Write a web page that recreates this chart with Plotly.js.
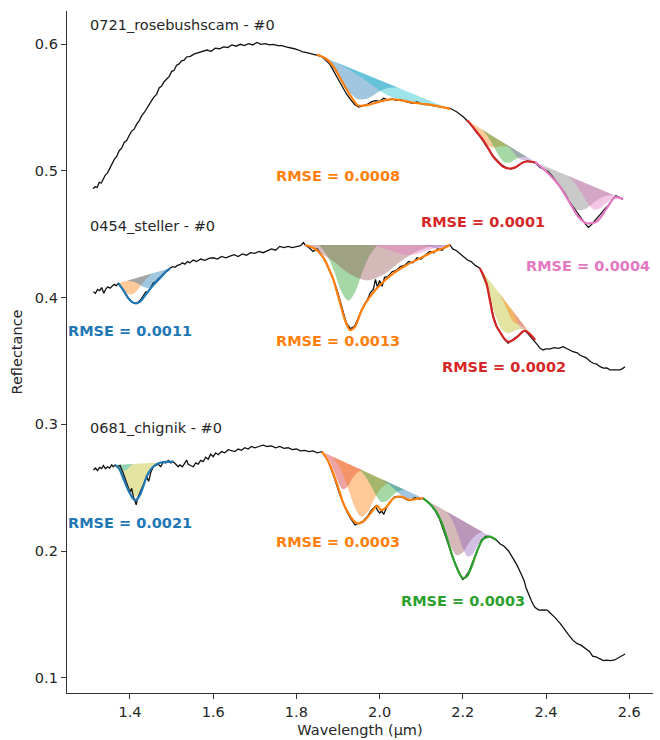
<!DOCTYPE html>
<html>
<head>
<meta charset="utf-8">
<script src="https://cdn.plot.ly/plotly-3.0.1.min.js"></script>
<style>html,body{margin:0;padding:0;background:#fff;}#chart{width:660px;height:740px;}</style>
</head>
<body>
<div id="chart"></div>
<script>
// ---------------- Spectra (black lines) ----------------
const s1_wl = [1.311,1.316,1.321,1.326,1.331,1.336,1.341,1.346,1.351,1.356,1.362,1.368,1.374,1.380,1.386,1.392,1.398,1.404,1.410,1.416,1.422,1.428,1.434,1.440,1.446,1.452,1.458,1.464,1.470,1.476,1.482,1.488,1.494,1.500,1.506,1.512,1.518,1.524,1.530,1.536,1.545,1.555,1.565,1.575,1.585,1.595,1.605,1.615,1.625,1.635,1.645,1.655,1.665,1.675,1.685,1.695,1.705,1.715,1.725,1.735,1.745,1.755,1.765,1.775,1.785,1.795,1.805,1.815,1.825,1.835,1.849,
1.86,1.87,1.88,1.89,1.90,1.91,1.92,1.93,1.94,1.95,1.96,1.97,1.98,1.99,2.00,2.01,2.02,2.03,2.04,2.05,2.06,2.07,2.08,2.09,2.10,2.11,2.12,2.13,2.14,2.15,2.16,2.169,
2.185,2.201,2.213,2.225,2.235,2.245,2.255,2.265,2.275,2.285,2.295,2.305,2.315,2.325,2.335,2.345,2.355,2.365,2.374,2.385,2.395,2.405,2.415,2.425,2.435,2.445,2.455,2.465,2.475,2.485,2.495,2.502,2.51,2.52,2.53,2.54,2.55,2.56,2.568,2.577,2.585];
const s1_r = [0.486,0.4875,0.487,0.491,0.4905,0.494,0.497,0.4985,0.5025,0.505,0.509,0.5115,0.516,0.518,0.5225,0.524,0.528,0.5315,0.533,0.537,0.5395,0.5435,0.546,0.5495,0.552,0.5555,0.5585,0.5605,0.5655,0.567,0.5705,0.5725,0.5745,0.5785,0.5795,0.5835,0.5845,0.587,0.5875,0.590,0.5905,0.5925,0.5935,0.5945,0.5955,0.5945,0.597,0.5965,0.598,0.5975,0.5995,0.5985,0.600,0.599,0.6005,0.5995,0.6015,0.600,0.6005,0.5995,0.600,0.599,0.599,0.598,0.5975,0.5965,0.5955,0.594,0.5935,0.5925,0.5915,
0.5905,0.588,0.5845,0.5785,0.5725,0.5665,0.561,0.5565,0.5525,0.5505,0.5515,0.5525,0.5545,0.5555,0.555,0.5575,0.556,0.557,0.5555,0.5565,0.555,0.5545,0.5535,0.5545,0.553,0.5525,0.5525,0.5515,0.551,0.5505,0.5495,0.5495,
0.5468,0.5428,0.5389,0.534,0.5295,0.5255,0.5205,0.5155,0.511,0.5075,0.5045,0.5025,0.5015,0.5025,0.505,0.507,0.508,0.5075,0.5065,0.503,0.501,0.4995,0.496,0.4915,0.487,0.4825,0.4765,0.4715,0.4665,0.4625,0.458,0.4555,0.458,0.4615,0.4655,0.4695,0.473,0.4775,0.4805,0.479,0.4775];

const s2_wl = [1.312,1.317,1.322,1.327,1.332,1.337,1.342,1.347,1.352,1.357,1.362,1.367,1.372,
1.378,1.384,1.39,1.396,1.402,1.408,1.414,1.42,1.426,1.432,1.438,1.444,1.45,1.456,1.462,1.468,1.474,1.48,1.486,1.492,1.496,
1.502,1.508,1.514,1.52,1.526,1.532,1.538,1.544,1.552,1.56,1.57,1.58,1.59,1.60,1.61,1.62,1.63,1.64,1.65,1.66,1.67,1.68,1.69,1.70,1.71,1.72,1.73,1.74,1.75,1.76,1.77,1.78,1.79,1.80,1.81,1.817,1.821,
1.83,1.84,1.85,1.86,1.87,1.88,1.89,1.90,1.91,1.92,1.93,1.94,1.95,1.96,1.97,1.978,1.985,1.99,1.995,2.0,2.006,2.012,2.02,2.03,2.04,2.05,2.06,2.07,2.08,2.09,2.10,2.11,2.12,2.13,2.14,2.15,2.16,2.169,
2.176,2.185,2.195,2.205,2.212,2.22,2.23,2.241,
2.25,2.258,2.265,2.273,2.281,2.29,2.30,2.309,2.317,2.325,2.333,2.341,2.349,2.357,2.365,2.374,
2.38,2.386,2.393,2.40,2.41,2.42,2.43,2.441,2.45,2.458,2.465,2.475,2.482,2.489,2.497,2.505,2.514,2.522,2.53,2.538,2.546,2.554,2.562,2.57,2.578,2.584,2.59];
const s2_r = [0.4047,0.4035,0.4065,0.4055,0.408,0.4035,0.407,0.4085,0.4075,0.409,0.4105,0.4095,0.4113,
0.409,0.4055,0.4025,0.3995,0.3975,0.396,0.3955,0.3965,0.3985,0.4015,0.4045,0.4045,0.408,0.4115,0.4125,0.415,0.4165,0.4185,0.4205,0.4215,0.4232,
0.4245,0.424,0.4255,0.426,0.4275,0.4265,0.4285,0.4275,0.4297,0.4285,0.4305,0.4295,0.431,0.4315,0.4305,0.4325,0.4315,0.433,0.434,0.4325,0.4345,0.4335,0.4355,0.435,0.4365,0.4355,0.437,0.4385,0.4375,0.4405,0.4395,0.4405,0.4395,0.4405,0.441,0.4435,0.4416,
0.4395,0.4365,0.4385,0.4335,0.429,0.421,0.4135,0.4035,0.3915,0.380,0.3755,0.3775,0.385,0.3925,0.398,0.404,0.4065,0.4145,0.408,0.4135,0.409,0.416,0.4165,0.4205,0.4215,0.4245,0.4255,0.4285,0.4275,0.4315,0.4305,0.4335,0.4365,0.4355,0.4385,0.4375,0.4405,0.4416,
0.4385,0.437,0.4345,0.4315,0.4295,0.4285,0.4255,0.4232,
0.4165,0.410,0.399,0.386,0.3775,0.3725,0.367,0.364,0.366,0.3685,0.3705,0.3725,0.374,0.3715,0.3685,0.3655,
0.3625,0.360,0.3587,0.3595,0.3595,0.3605,0.360,0.3613,0.3595,0.3585,0.3573,0.3565,0.3545,0.3534,0.3525,0.350,0.3482,0.3475,0.3455,0.3443,0.3445,0.343,0.343,0.3435,0.343,0.344,0.3455];

const s3_wl = [1.312,1.317,1.322,1.327,1.332,1.336,1.341,1.346,1.351,1.356,1.36,1.364,
1.37,1.376,1.382,1.388,1.394,1.40,1.404,1.408,1.412,1.415,1.418,1.422,1.428,1.434,1.44,1.445,1.45,1.456,1.462,1.468,1.474,1.48,1.486,1.492,1.498,1.504,
1.51,1.516,1.52,1.526,1.532,1.536,1.54,1.546,1.552,1.558,1.564,1.57,1.576,1.582,1.588,1.594,1.60,1.606,1.612,1.62,1.628,1.636,1.644,1.652,1.66,1.668,1.676,1.684,1.692,1.70,1.71,1.72,1.73,1.74,1.75,1.76,1.77,1.78,1.79,1.80,1.81,1.82,1.83,1.84,1.85,1.861,
1.875,1.89,1.905,1.92,1.93,1.941,1.95,1.96,1.97,1.98,1.99,1.995,2.0,2.005,2.01,2.017,2.025,2.035,2.045,2.055,2.065,2.075,2.085,2.095,2.105,
2.115,2.125,2.135,2.145,2.155,2.165,2.175,2.185,2.195,2.2,2.205,2.215,2.225,2.235,2.245,2.255,2.265,2.275,2.281,
2.29,2.30,2.31,2.32,2.33,2.34,2.347,2.352,2.357,2.365,2.373,2.383,2.393,2.403,2.41,2.42,2.434,2.444,2.454,2.464,2.474,2.485,2.495,2.505,2.512,2.52,2.53,2.538,2.545,2.555,2.565,2.575,2.583,2.59];
const s3_r = [0.264,0.2655,0.2635,0.266,0.265,0.2675,0.265,0.2665,0.2655,0.268,0.2665,0.2679,
0.2665,0.2675,0.263,0.258,0.2525,0.2465,0.2495,0.243,0.2395,0.2365,0.2415,0.2445,0.249,0.2535,0.2585,0.255,0.262,0.2665,0.2675,0.2685,0.2665,0.2705,0.2695,0.2715,0.2695,0.2705,
0.2685,0.2665,0.268,0.2665,0.2695,0.2718,0.2685,0.2675,0.2665,0.2695,0.2685,0.2715,0.2705,0.274,0.2725,0.2765,0.2745,0.2775,0.276,0.2785,0.2775,0.280,0.279,0.2785,0.2805,0.2795,0.2815,0.2805,0.2825,0.2815,0.2825,0.2835,0.2825,0.283,0.2815,0.2825,0.281,0.2815,0.280,0.2805,0.279,0.2795,0.2785,0.279,0.2775,0.2784,
0.272,0.259,0.244,0.232,0.226,0.2205,0.222,0.2235,0.227,0.232,0.2355,0.232,0.230,0.2315,0.229,0.2345,0.239,0.2425,0.243,0.2425,0.2405,0.240,0.242,0.241,0.2416,
0.239,0.2355,0.231,0.2245,0.2155,0.2055,0.1955,0.187,0.180,0.1775,0.179,0.184,0.192,0.201,0.2085,0.2115,0.2115,0.2095,0.2085,
0.2055,0.2035,0.200,0.195,0.189,0.182,0.177,0.171,0.1666,0.1605,0.1555,0.1534,0.1535,0.1534,0.151,0.148,0.1429,0.138,0.134,0.1298,0.127,0.1255,0.1232,0.1205,0.117,0.1165,0.1148,0.1135,0.1138,0.1135,0.114,0.1158,0.117,0.1187];

// ---------------- Fitted curves ----------------
const s1_fitA_wl = [1.849,1.87,1.89,1.91,1.93,1.948,1.97,2.0,2.025,2.05,2.08,2.11,2.14,2.169];
const s1_fitA_r  = [0.592,0.589,0.582,0.5705,0.5595,0.5518,0.552,0.5547,0.5566,0.556,0.554,0.5528,0.5512,0.549];
const s1_fitB_wl = [2.21,2.2173,2.233,2.249,2.261,2.273,2.285,2.297,2.317,2.33,2.341,2.353,2.365,2.374];
const s1_fitB_r  = [0.540,0.5376,0.531,0.5244,0.518,0.5113,0.507,0.5034,0.502,0.5035,0.506,0.5075,0.5073,0.507];
const s1_fitC_wl = [2.374,2.4016,2.4337,2.4577,2.4777,2.4978,2.522,2.546,2.566,2.585];
const s1_fitC_r  = [0.507,0.4994,0.4876,0.4745,0.4639,0.4587,0.460,0.4705,0.4792,0.478];

const s2_fitA_wl = [1.372,1.384,1.395,1.405,1.415,1.425,1.44,1.456,1.472,1.485,1.496];
const s2_fitA_r  = [0.4113,0.406,0.400,0.3965,0.3955,0.397,0.4034,0.410,0.4153,0.420,0.4232];
const s2_fitB_wl = [1.821,1.835,1.849,1.868,1.879,1.889,1.897,1.905,1.917,1.929,1.941,1.957,1.977,2.001,2.033,2.065,2.097,2.129,2.153,2.169];
const s2_fitB_r  = [0.4416,0.440,0.4376,0.4298,0.422,0.414,0.405,0.3958,0.382,0.3744,0.377,0.3903,0.4008,0.410,0.4192,0.4258,0.431,0.4363,0.439,0.4416];
const s2_fitC_wl = [2.241,2.249,2.257,2.265,2.273,2.281,2.289,2.299,2.309,2.321,2.333,2.345,2.353,2.362,2.374];
const s2_fitC_r  = [0.4232,0.418,0.4113,0.3982,0.385,0.3775,0.3731,0.368,0.3652,0.3666,0.3695,0.3735,0.3735,0.371,0.3666];

const s3_fitA_wl = [1.364,1.374,1.382,1.392,1.398,1.404,1.412,1.418,1.424,1.432,1.44,1.448,1.456,1.464,1.472,1.488,1.504];
const s3_fitA_r  = [0.2679,0.265,0.259,0.2508,0.2465,0.243,0.2402,0.2412,0.2442,0.251,0.2587,0.2635,0.2665,0.2685,0.2697,0.2703,0.2705];
const s3_fitB_wl = [1.861,1.871,1.881,1.889,1.897,1.905,1.913,1.923,1.933,1.941,1.949,1.957,1.965,1.973,1.981,1.988,1.994,2.0,2.005,2.011,2.017,2.025,2.033,2.043,2.053,2.063,2.073,2.083,2.093,2.105];
const s3_fitB_r  = [0.2784,0.274,0.2677,0.261,0.2534,0.2455,0.2376,0.231,0.2258,0.2228,0.2218,0.2225,0.2245,0.2275,0.231,0.234,0.2358,0.2335,0.2323,0.2332,0.235,0.2385,0.2416,0.2428,0.2429,0.2415,0.2403,0.2408,0.2416,0.2416];
const s3_fitC_wl = [2.105,2.12,2.135,2.149,2.161,2.175,2.19,2.2,2.21,2.222,2.235,2.249,2.265,2.281];
const s3_fitC_r  = [0.2416,0.2375,0.2315,0.2225,0.211,0.196,0.1835,0.1785,0.180,0.1885,0.2005,0.2095,0.2113,0.2087];

// ---------------- Band windows: continuum end points ----------------
const s1A_cont_wl = [1.849, 2.169], s1A_cont_r = [0.592, 0.549];
const s1B_cont_wl = [2.21, 2.374],  s1B_cont_r = [0.540, 0.507];
const s1C_cont_wl = [2.374, 2.585], s1C_cont_r = [0.507, 0.478];
const s2A_cont_wl = [1.372, 1.496], s2A_cont_r = [0.4113, 0.4232];
const s2B_cont_wl = [1.821, 2.169], s2B_cont_r = [0.4416, 0.4416];
const s2C_cont_wl = [2.241, 2.374], s2C_cont_r = [0.4232, 0.3666];
const s3A_cont_wl = [1.364, 1.504], s3A_cont_r = [0.2679, 0.2705];
const s3B_cont_wl = [1.861, 2.105], s3B_cont_r = [0.2784, 0.2416];
const s3C_cont_wl = [2.105, 2.281], s3C_cont_r = [0.2416, 0.2087];

// ---------------- Band components: wavelength + depth below continuum ----------------
const s1A_g1_wl = [1.853,1.880,1.902,1.925,1.948,1.971,1.994,2.016,2.043];
const s1A_g1_d  = [0,0.0044,0.0107,0.0184,0.022,0.0184,0.0107,0.0044,0];
const s1A_g2_wl = [1.8925,1.931,1.964,1.997,2.03,2.063,2.096,2.129,2.1675];
const s1A_g2_d  = [0,0.0019,0.0046,0.0079,0.0095,0.0079,0.0046,0.0019,0];
const s1B_g1_wl = [2.21,2.2224,2.2356,2.2488,2.262,2.2752,2.2884,2.3016,2.317];
const s1B_g1_d  = [0,0.002,0.0049,0.0084,0.010,0.0084,0.0049,0.002,0];
const s1B_g2_wl = [2.245,2.2604,2.2736,2.2868,2.30,2.3132,2.3264,2.3396,2.355];
const s1B_g2_d  = [0,0.003,0.0073,0.0125,0.015,0.0125,0.0073,0.003,0];
const s1B_g3_wl = [2.302,2.3118,2.3202,2.3286,2.337,2.3454,2.3538,2.3622,2.372];
const s1B_g3_d  = [0,0.001,0.0024,0.0042,0.005,0.0042,0.0024,0.001,0];
const s1C_g1_wl = [2.3875,2.412,2.433,2.454,2.475,2.496,2.517,2.538,2.5625];
const s1C_g1_d  = [0,0.0048,0.0117,0.020,0.024,0.020,0.0117,0.0048,0];
const s1C_g2_wl = [2.4525,2.47,2.485,2.5,2.515,2.53,2.545,2.56,2.5775];
const s1C_g2_d  = [0,0.0036,0.0088,0.015,0.018,0.015,0.0088,0.0036,0];

const s2A_g1_wl = [1.372,1.381,1.393,1.405,1.417,1.429,1.441,1.455];
const s2A_g1_d  = [0,0.0058,0.010,0.012,0.010,0.0058,0.0024,0];
const s2A_g2_wl = [1.393,1.4084,1.4216,1.4348,1.448,1.4612,1.4744,1.4876,1.496];
const s2A_g2_d  = [0,0.0022,0.0054,0.0092,0.011,0.0092,0.0054,0.0022,0];
const s2B_g1_wl = [1.855,1.8746,1.8914,1.9082,1.925,1.9418,1.9586,1.9754,1.995];
const s2B_g1_d  = [0,0.0087,0.0214,0.0367,0.044,0.0367,0.0214,0.0087,0];
const s2B_g2_wl = [1.821,1.853,1.892,1.931,1.97,2.009,2.048,2.087,2.1325];
const s2B_g2_d  = [0,0.0055,0.0136,0.0234,0.028,0.0234,0.0136,0.0055,0];
const s2B_g3_wl = [1.97,1.998,2.022,2.046,2.07,2.094,2.118,2.142,2.169];
const s2B_g3_d  = [0,0.0016,0.0039,0.0067,0.008,0.0067,0.0039,0.0016,0];
const s2B_g4_wl = [2.1025,2.113,2.122,2.131,2.14,2.149,2.158,2.169];
const s2B_g4_d  = [0,0.0006,0.0015,0.0025,0.003,0.0025,0.0015,0];
const s2C_g1_wl = [2.241,2.2482,2.2638,2.2794,2.295,2.3106,2.3262,2.3418,2.36];
const s2C_g1_d  = [0,0.0052,0.0127,0.0217,0.026,0.0217,0.0127,0.0052,0];
const s2C_g2_wl = [2.285,2.2948,2.3032,2.3116,2.32,2.3284,2.3368,2.3452,2.355];
const s2C_g2_d  = [0,0.0016,0.0039,0.0067,0.008,0.0067,0.0039,0.0016,0];
const s2C_g3_wl = [2.3145,2.3208,2.3262,2.3316,2.337,2.3424,2.3478,2.3532,2.3595];
const s2C_g3_d  = [0,0.001,0.0024,0.0042,0.005,0.0042,0.0024,0.001,0];

const s3A_g1_wl = [1.364,1.3744,1.3876,1.4008,1.414,1.4272,1.4404,1.4536,1.469];
const s3A_g1_d  = [0,0.0052,0.0127,0.0217,0.026,0.0217,0.0127,0.0052,0];
const s3A_g2_wl = [1.368,1.3736,1.3784,1.3832,1.388,1.3928,1.3976,1.4024,1.408];
const s3A_g2_d  = [0,0.001,0.0024,0.0042,0.005,0.0042,0.0024,0.001,0];
const s3B_g1_wl = [1.867,1.8796,1.8904,1.9012,1.912,1.9228,1.9336,1.9444,1.957];
const s3B_g1_d  = [0,0.0044,0.0107,0.0184,0.022,0.0184,0.0107,0.0044,0];
const s3B_g2_wl = [1.8875,1.9064,1.9226,1.9388,1.955,1.9712,1.9874,2.0036,2.0225];
const s3B_g2_d  = [0,0.0073,0.018,0.0309,0.037,0.0309,0.018,0.0073,0];
const s3B_g3_wl = [1.95,1.9654,1.9786,1.9918,2.005,2.0182,2.0314,2.0446,2.06];
const s3B_g3_d  = [0,0.0036,0.0088,0.015,0.018,0.015,0.0088,0.0036,0];
const s3B_g4_wl = [2.005,2.0204,2.0336,2.0468,2.06,2.0732,2.0864,2.0996,2.105];
const s3B_g4_d  = [0,0.0012,0.0029,0.005,0.006,0.005,0.0029,0.0012,0];
const s3C_g1_wl = [2.1225,2.14,2.155,2.17,2.185,2.2,2.215,2.23,2.2475];
const s3C_g1_d  = [0,0.0059,0.0146,0.025,0.030,0.025,0.0146,0.0059,0];
const s3C_g2_wl = [2.162,2.176,2.188,2.2,2.212,2.224,2.236,2.248,2.262];
const s3C_g2_d  = [0,0.0051,0.0127,0.0217,0.026,0.0217,0.0127,0.0051,0];

// ---------------- Text ----------------
const spec_names = ["0721_rosebushscam - #0", "0454_steller - #0", "0681_chignik - #0"];
const spec_name_wl = [1.299, 1.299, 1.299];
const spec_name_r = [0.6152, 0.4566, 0.2971];
const rmse_text = ["RMSE = 0.0008","RMSE = 0.0001","RMSE = 0.0004","RMSE = 0.0011","RMSE = 0.0013","RMSE = 0.0002","RMSE = 0.0021","RMSE = 0.0003","RMSE = 0.0003"];
const rmse_wl = [1.9, 2.2486, 2.502, 1.4, 1.9, 2.3, 1.4, 1.9, 2.2];
const rmse_r  = [0.496, 0.4599, 0.425, 0.3737, 0.3658, 0.345, 0.2221, 0.2075, 0.1607];
const rmse_col = ["#ff7f0e","#d62728","#e377c2","#1f77b4","#ff7f0e","#d62728","#1f77b4","#ff7f0e","#2ca02c"];

// ---------------- Colours ----------------
const C = {
  blue:'rgba(31,119,180,0.42)', cyan:'rgba(23,190,207,0.42)', orange:'rgba(255,127,14,0.42)',
  green:'rgba(44,160,44,0.42)', purple:'rgba(148,103,189,0.42)', gray:'rgba(127,127,127,0.42)',
  pink:'rgba(227,119,194,0.42)', olive:'rgba(188,189,34,0.42)', brown:'rgba(150,80,80,0.40)',
  red:'rgba(214,39,40,0.42)'
};

const traces = [];
function comp(wl, d, cwl, cr, color){
  const slope = (cr[1]-cr[0])/(cwl[1]-cwl[0]);
  const y = wl.map((x,i)=> cr[0] + slope*(x-cwl[0]) - d[i]);
  traces.push({x: wl, y: y, type:'scatter', mode:'lines', fill:'toself', fillcolor: color,
    line:{width:0, shape:'spline', smoothing:0.9}, hoverinfo:'skip', showlegend:false});
}
comp(s1A_g1_wl, s1A_g1_d, s1A_cont_wl, s1A_cont_r, C.blue);
comp(s1A_g2_wl, s1A_g2_d, s1A_cont_wl, s1A_cont_r, C.cyan);
comp(s1B_g1_wl, s1B_g1_d, s1B_cont_wl, s1B_cont_r, C.orange);
comp(s1B_g2_wl, s1B_g2_d, s1B_cont_wl, s1B_cont_r, C.green);
comp(s1B_g3_wl, s1B_g3_d, s1B_cont_wl, s1B_cont_r, C.purple);
comp(s1C_g1_wl, s1C_g1_d, s1C_cont_wl, s1C_cont_r, C.gray);
comp(s1C_g2_wl, s1C_g2_d, s1C_cont_wl, s1C_cont_r, C.pink);
comp(s2A_g1_wl, s2A_g1_d, s2A_cont_wl, s2A_cont_r, C.orange);
comp(s2A_g2_wl, s2A_g2_d, s2A_cont_wl, s2A_cont_r, C.blue);
comp(s2B_g1_wl, s2B_g1_d, s2B_cont_wl, s2B_cont_r, C.green);
comp(s2B_g2_wl, s2B_g2_d, s2B_cont_wl, s2B_cont_r, C.brown);
comp(s2B_g3_wl, s2B_g3_d, s2B_cont_wl, s2B_cont_r, C.pink);
comp(s2B_g4_wl, s2B_g4_d, s2B_cont_wl, s2B_cont_r, C.purple);
comp(s2C_g1_wl, s2C_g1_d, s2C_cont_wl, s2C_cont_r, C.olive);
comp(s2C_g2_wl, s2C_g2_d, s2C_cont_wl, s2C_cont_r, C.orange);
comp(s2C_g3_wl, s2C_g3_d, s2C_cont_wl, s2C_cont_r, C.pink);
comp(s3A_g1_wl, s3A_g1_d, s3A_cont_wl, s3A_cont_r, C.olive);
comp(s3A_g2_wl, s3A_g2_d, s3A_cont_wl, s3A_cont_r, C.cyan);
comp(s3B_g1_wl, s3B_g1_d, s3B_cont_wl, s3B_cont_r, C.red);
comp(s3B_g2_wl, s3B_g2_d, s3B_cont_wl, s3B_cont_r, C.orange);
comp(s3B_g3_wl, s3B_g3_d, s3B_cont_wl, s3B_cont_r, C.green);
comp(s3B_g4_wl, s3B_g4_d, s3B_cont_wl, s3B_cont_r, C.blue);
comp(s3C_g1_wl, s3C_g1_d, s3C_cont_wl, s3C_cont_r, C.brown);
comp(s3C_g2_wl, s3C_g2_d, s3C_cont_wl, s3C_cont_r, C.purple);

function spec(x, y){
  traces.push({x, y, type:'scatter', mode:'lines', line:{color:'#111111', width:1.3}, hoverinfo:'skip', showlegend:false});
}
spec(s1_wl, s1_r); spec(s2_wl, s2_r); spec(s3_wl, s3_r);

function fit(x, y, color){
  traces.push({x, y, type:'scatter', mode:'lines', line:{color, width:2.2, shape:'spline', smoothing:0.7}, hoverinfo:'skip', showlegend:false});
}
fit(s1_fitA_wl, s1_fitA_r, '#ff7f0e');
fit(s1_fitB_wl, s1_fitB_r, '#d62728');
fit(s1_fitC_wl, s1_fitC_r, '#e377c2');
fit(s2_fitA_wl, s2_fitA_r, '#1f77b4');
fit(s2_fitB_wl, s2_fitB_r, '#ff7f0e');
fit(s2_fitC_wl, s2_fitC_r, '#d62728');
fit(s3_fitA_wl, s3_fitA_r, '#1f77b4');
fit(s3_fitB_wl, s3_fitB_r, '#ff7f0e');
fit(s3_fitC_wl, s3_fitC_r, '#2ca02c');

const FONT = 'DejaVu Sans, Liberation Sans, sans-serif';
const annotations = [];
spec_names.forEach((t,i)=> annotations.push({text:t, x:spec_name_wl[i], y:spec_name_r[i], xref:'x', yref:'y',
  xanchor:'left', yanchor:'middle', showarrow:false, font:{family:FONT, size:14.5, color:'#262626'}}));
rmse_text.forEach((t,i)=> annotations.push({text:'<b>'+t+'</b>', x:rmse_wl[i], y:rmse_r[i], xref:'x', yref:'y',
  xanchor:'center', yanchor:'middle', showarrow:false, font:{family:FONT, size:14.5, color:rmse_col[i]}}));

const layout = {
  width:660, height:740,
  margin:{l:67, r:7, t:11, b:47},
  paper_bgcolor:'#ffffff', plot_bgcolor:'#ffffff',
  showlegend:false,
  font:{family:FONT, size:14.5, color:'#262626'},
  xaxis:{range:[1.2486, 2.6572], tickvals:[1.4,1.6,1.8,2.0,2.2,2.4,2.6], ticktext:['1.4','1.6','1.8','2.0','2.2','2.4','2.6'],
    ticks:'outside', ticklen:5, tickwidth:1, tickcolor:'#333', showline:true, linecolor:'#333', linewidth:1.2,
    showgrid:false, zeroline:false, mirror:false,
    title:{text:'Wavelength (µm)', font:{family:FONT, size:14.5, color:'#262626'}, standoff:6}},
  yaxis:{range:[0.0879, 0.6263], tickvals:[0.1,0.2,0.3,0.4,0.5,0.6], ticktext:['0.1','0.2','0.3','0.4','0.5','0.6'],
    ticks:'outside', ticklen:5, tickwidth:1, tickcolor:'#333', showline:true, linecolor:'#333', linewidth:1.2,
    showgrid:false, zeroline:false, mirror:false,
    title:{text:'Reflectance', font:{family:FONT, size:14.5, color:'#262626'}, standoff:8}},
  annotations
};
Plotly.newPlot('chart', traces, layout, {displayModeBar:false, staticPlot:true});
</script>
</body>
</html>
